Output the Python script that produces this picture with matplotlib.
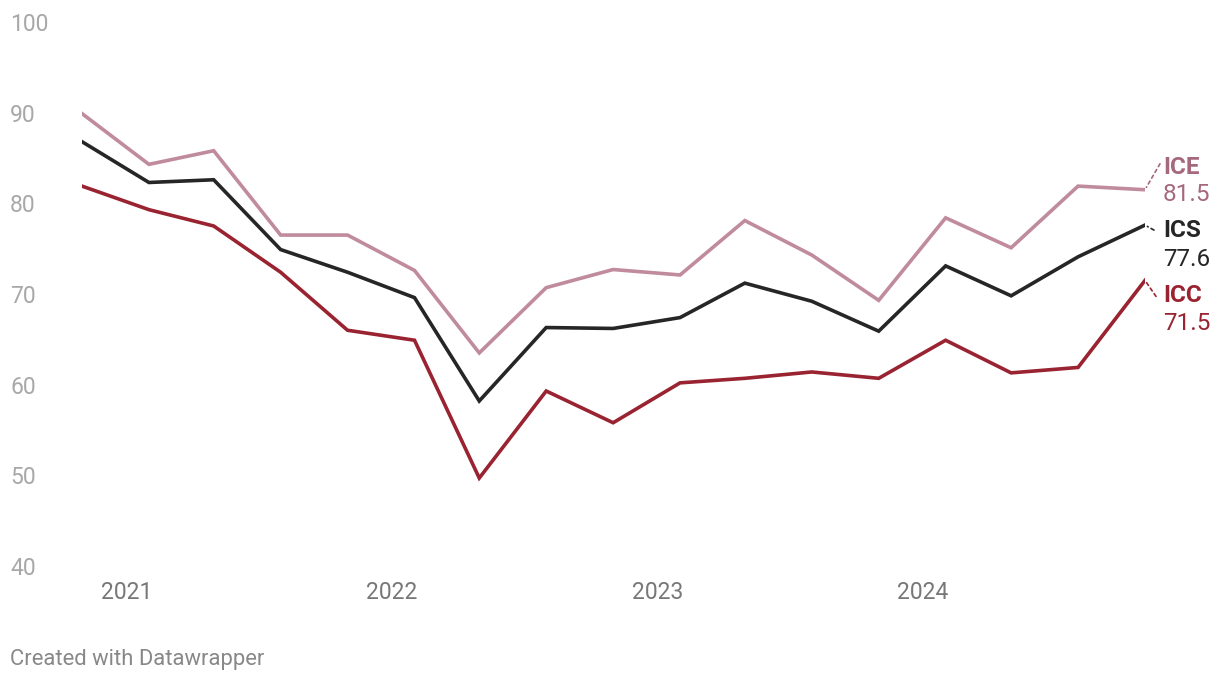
import pandas as pd
import matplotlib
matplotlib.use("Agg")
import matplotlib.pyplot as plt
import matplotlib.dates as mdates
from matplotlib.transforms import blended_transform_factory

plt.rcParams['font.family'] = ['Roboto', 'DejaVu Sans']

# quarterly readings, Nov 2020 .. Nov 2024
dates = pd.date_range('2020-11-01', '2024-11-01', freq='3MS')
ice = [89.9, 84.3, 85.8, 76.5, 76.5, 72.6, 63.5, 70.7, 72.7, 72.1, 78.1,
       74.3, 69.3, 78.4, 75.1, 81.9, 81.5]
ics = [86.8, 82.3, 82.6, 74.9, 72.4, 69.6, 58.2, 66.3, 66.2, 67.4, 71.2,
       69.2, 65.9, 73.1, 69.8, 74.1, 77.6]
icc = [81.9, 79.3, 77.5, 72.4, 66.0, 64.9, 49.7, 59.3, 55.8, 60.2, 60.7,
       61.4, 60.7, 64.9, 61.3, 61.9, 71.5]

names = ['ICE', 'ICS', 'ICC']
series = [ice, ics, icc]
line_colors = ['#c08b9d', '#262626', '#9a2331']
label_colors = ['#a5687d', '#262626', '#9a2331']

W, H = 1220, 682
fig = plt.figure(figsize=(W / 100, H / 100), dpi=100)
ax = fig.add_axes([82 / W, 116 / H, (1145 - 82) / W, (566 - 22) / H])

for vals, col in zip(series, line_colors):
    ax.plot(dates, vals, color=col, lw=2.6, solid_joinstyle='miter', zorder=3)

ax.set_xlim(dates[0], dates[-1])
ax.set_ylim(40, 100)

for s in ax.spines.values():
    s.set_visible(False)
ax.set_yticks([])
ax.xaxis.set_major_locator(mdates.YearLocator())
ax.xaxis.set_major_formatter(mdates.DateFormatter('%Y'))
ax.tick_params(axis='x', length=0, pad=11, labelsize=16.5, labelcolor='#777777')

# y labels sit at the left edge of the figure
ytrans = blended_transform_factory(fig.transFigure, ax.transData)
for v in range(40, 101, 10):
    ax.text(10 / W, v, str(v), transform=ytrans, ha='left', va='center_baseline',
            fontsize=16.5, color='#a8a8a8')

# end labels: (name offset, value offset, connector end) in pixels from last point
offsets = [(22, -5, (15, 26)), (-5, -34, (9, -5)), (-15, -43, (11, -16))]
for name, vals, col, (dn, dv, (cx, cy)) in zip(names, series, label_colors, offsets):
    xy = (dates[-1], vals[-1])
    ax.annotate(name, xy, xytext=(18, dn), textcoords='offset pixels',
                ha='left', va='center', fontsize=17.5, fontweight='bold', color=col)
    ax.annotate(f'{vals[-1]:.1f}', xy, xytext=(18, dv), textcoords='offset pixels',
                ha='left', va='center', fontsize=17.5, color=col)
    ax.annotate('', xy, xytext=(cx, cy), textcoords='offset pixels',
                arrowprops=dict(arrowstyle='-', color=col, lw=1.2, linestyle=(0, (2, 2)),
                                shrinkA=0, shrinkB=2))

fig.text(10 / W, 1 - 659 / H, 'Created with Datawrapper', ha='left', va='center',
         fontsize=15.8, color='#888888')

fig.savefig('out.png', dpi=100)
